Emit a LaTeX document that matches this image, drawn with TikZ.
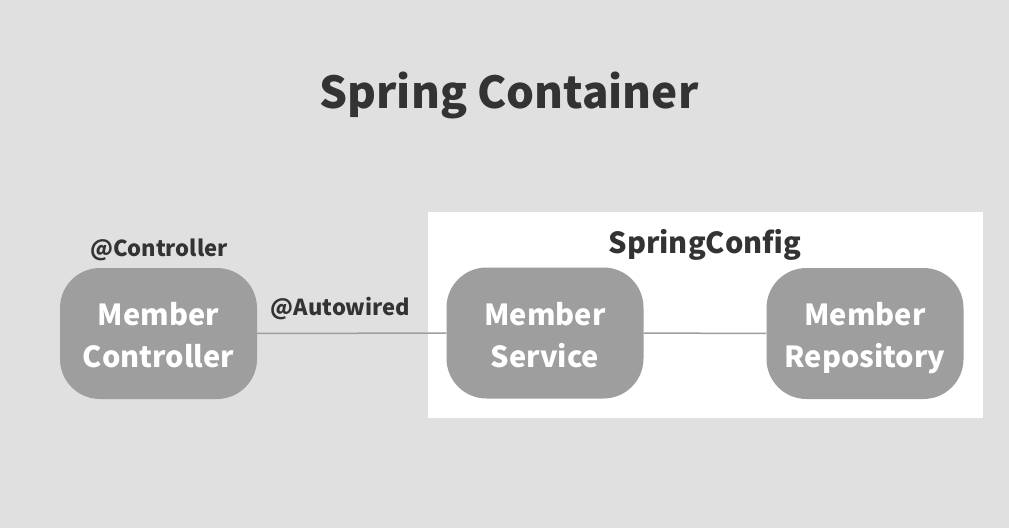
\documentclass[tikz,border=0pt]{standalone}
\usepackage{fontspec}
\setmainfont{Noto Sans CJK KR}
\usetikzlibrary{positioning}
\definecolor{bgGrey}{HTML}{E0E0E0}
\definecolor{boxGrey}{HTML}{9E9E9E}
\definecolor{txtDark}{HTML}{333333}
\newcommand{\topstrut}{\rule{0pt}{39.4pt}}
\tikzset{
  bean/.style={fill=boxGrey, rounded corners=40pt, minimum width=197pt, minimum height=131pt,
    text=white, font=\bfseries\fontsize{29}{42}\selectfont, align=center, inner sep=0pt},
  tag/.style={text=txtDark, font=\bfseries\fontsize{22}{26}\selectfont, inner sep=0pt},
  wire/.style={boxGrey, line width=1.5pt}
}
\begin{document}
\begin{tikzpicture}[x=1pt,y=-1pt]
\fill[bgGrey] (0,0) rectangle (1009,528);
\useasboundingbox (0,0) rectangle (1009,528);
\node[text=txtDark, font=\bfseries\fontsize{44}{50}\selectfont] (title) at (509,95) {Spring Container};
\fill[white] (428,212) rectangle (983,418);
\node[text=txtDark, font=\bfseries\fontsize{29}{34}\selectfont] (config) at (705,245) {SpringConfig};
% beans
\node[bean] (ctrl) at (158.5,333.5) {\topstrut Member\\\strut Controller};
\node[bean] (svc) at (545,333) {\topstrut Member\\\strut Service};
\node[bean] (repo) at (865,333.5) {\topstrut Member\\\strut Repository};
\node[tag] (ctrltag) at (159,250) {@Controller};
\draw[wire] (ctrl) -- (svc);
\node[tag] (autotag) at (340.5,309) {@Autowired};
\draw[wire] (svc) -- (repo);
\end{tikzpicture}
\end{document}
